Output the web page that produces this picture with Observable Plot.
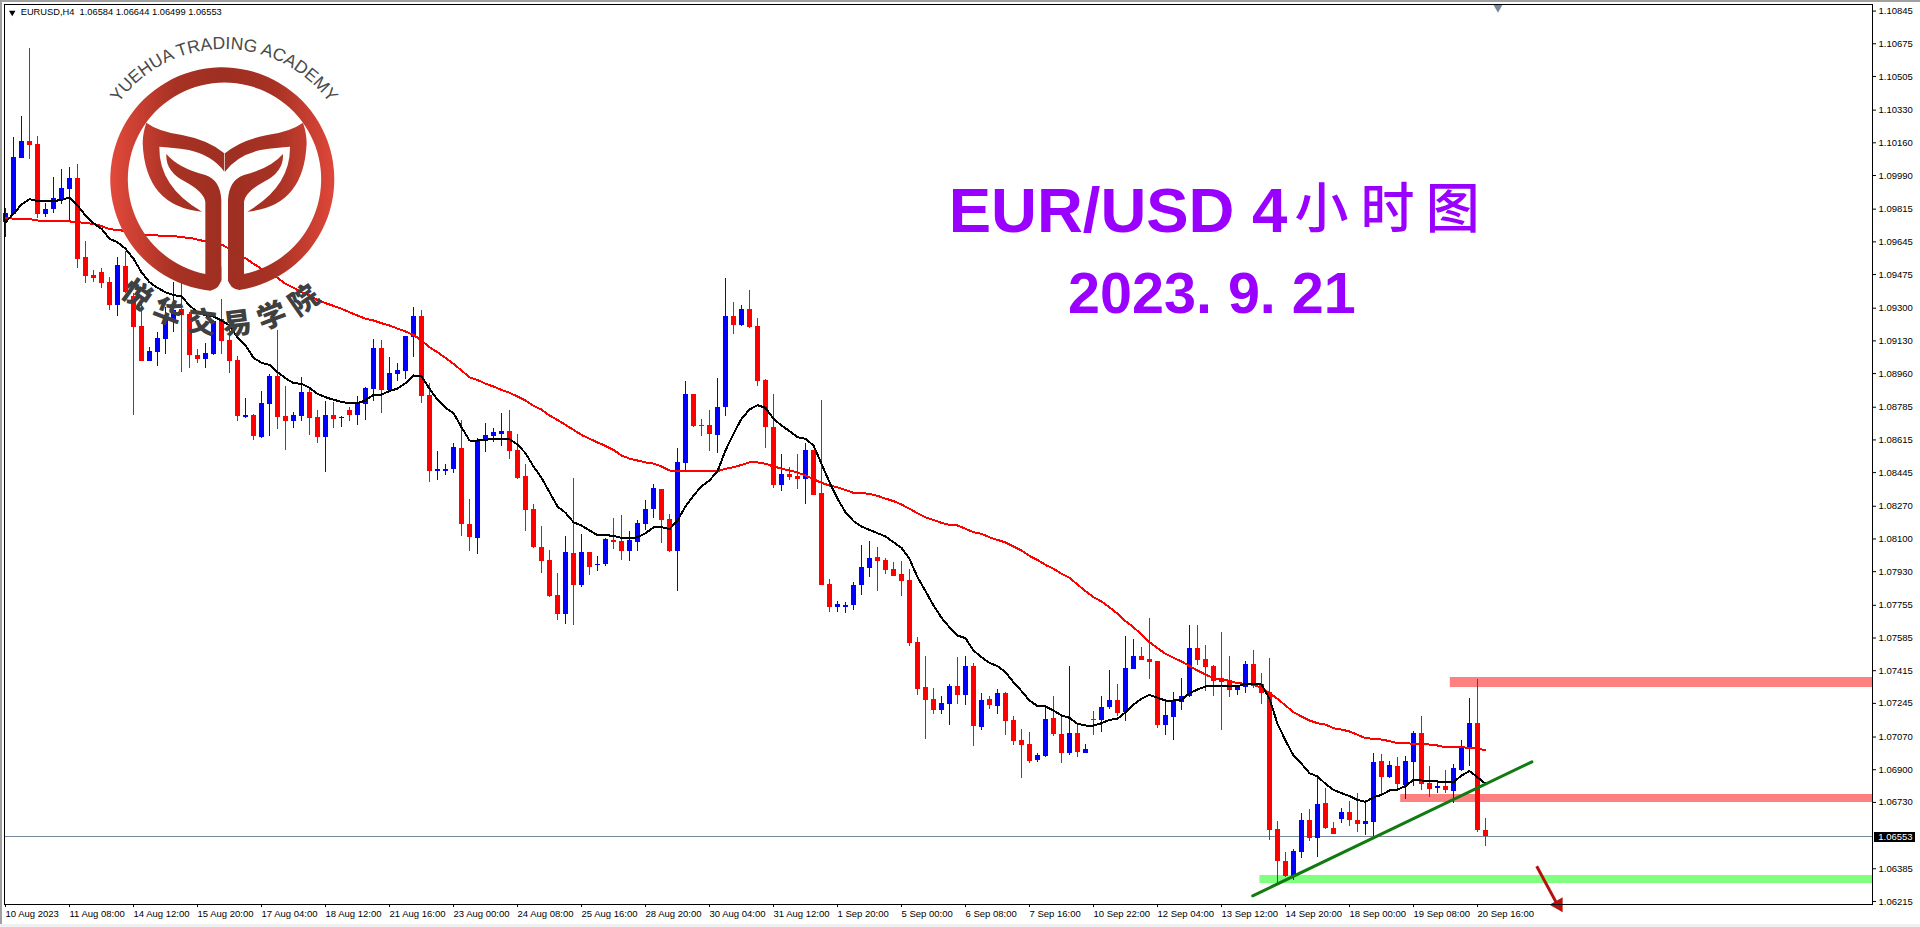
<!DOCTYPE html>
<html>
<head>
<meta charset="utf-8">
<script src="https://cdn.jsdelivr.net/npm/d3@7"></script>
<script src="https://cdn.jsdelivr.net/npm/@observablehq/plot@0.6"></script>
<style>
html,body{margin:0;padding:0;background:#fff;overflow:hidden}
#wrap{position:relative;width:1920px;height:927px}
#wrap svg{display:block}
.chrome{position:absolute}
</style>
</head>
<body>
<div id="wrap"></div>
<script>
const highs=[1.09817,1.10186,1.10297,1.10650,1.10193,1.09843,1.09978,1.10021,1.10032,1.10047,
1.09645,1.09496,1.09505,1.09461,1.09562,1.09597,1.09375,1.09331,1.09097,1.09175,
1.09305,1.09435,1.09519,1.09279,1.09084,1.09115,1.09236,1.09345,1.09227,1.09049,
1.08830,1.08746,1.08867,1.08955,1.09184,1.08893,1.08756,1.08938,1.08881,1.08768,
1.08813,1.08810,1.08737,1.08782,1.08841,1.08889,1.09135,1.09132,1.09042,1.09011,
1.09149,1.09302,1.09288,1.08907,1.08557,1.08487,1.08598,1.08716,1.08305,1.08621,
1.08700,1.08674,1.08752,1.08768,1.08643,1.08487,1.08279,1.08165,1.08040,1.07920,
1.08113,1.08414,1.08123,1.08030,1.08009,1.08102,1.08206,1.08222,1.08139,1.08196,
1.08300,1.08383,1.08359,1.08227,1.08570,1.08919,1.08851,1.08721,1.08768,1.08934,
1.09454,1.09330,1.09314,1.09392,1.09246,1.08929,1.08851,1.08539,1.08472,1.08539,
1.08596,1.08560,1.08820,1.07889,1.07775,1.07770,1.07874,1.08066,1.08087,1.08056,
1.07998,1.07978,1.07983,1.07941,1.07588,1.07489,1.07322,1.07281,1.07343,1.07484,
1.07489,1.07452,1.07296,1.07281,1.07317,1.07302,1.07177,1.07109,1.07094,1.06984,
1.07224,1.07281,1.07177,1.07437,1.07140,1.07031,1.07203,1.07281,1.07416,1.07343,
1.07593,1.07577,1.07536,1.07686,1.07463,1.07260,1.07302,1.07374,1.07650,1.07650,
1.07546,1.07442,1.07614,1.07489,1.07338,1.07463,1.07520,1.07400,1.07478,1.06631,
1.06470,1.06485,1.06672,1.06693,1.06861,1.06802,1.06626,1.06698,1.06735,1.06776,
1.06740,1.06984,1.06979,1.06943,1.06964,1.06969,1.07099,1.07177,1.06917,1.06844,
1.06896,1.06927,1.07052,1.07270,1.07369,1.06644];
const lows=[1.09669,1.09791,1.10080,1.10075,1.09765,1.09773,1.09794,1.09839,1.09756,1.09508,
1.09427,1.09435,1.09401,1.09288,1.09259,1.09375,1.08742,1.09025,1.09025,1.08997,
1.09059,1.09175,1.08967,1.08986,1.09014,1.08986,1.09054,1.09059,1.08959,1.08713,
1.08725,1.08612,1.08624,1.08633,1.08668,1.08560,1.08676,1.08713,1.08638,1.08598,
1.08447,1.08676,1.08681,1.08713,1.08692,1.08716,1.08817,1.08751,1.08869,1.08921,
1.08928,1.09045,1.08803,1.08395,1.08404,1.08430,1.08442,1.08113,1.08035,1.08019,
1.08550,1.08602,1.08581,1.08513,1.08409,1.08139,1.08050,1.07920,1.07796,1.07676,
1.07655,1.07650,1.07848,1.07910,1.07931,1.07957,1.08045,1.07988,1.07983,1.08035,
1.08144,1.08206,1.08076,1.08030,1.07827,1.08456,1.08680,1.08633,1.08555,1.08544,
1.08737,1.09163,1.09205,1.09194,1.08893,1.08570,1.08362,1.08347,1.08404,1.08357,
1.08279,1.08326,1.07858,1.07718,1.07718,1.07712,1.07728,1.07806,1.07900,1.07827,
1.07915,1.07905,1.07801,1.07543,1.07286,1.07057,1.07187,1.07187,1.07130,1.07239,
1.07234,1.07021,1.07104,1.07213,1.07187,1.07078,1.07026,1.06854,1.06932,1.06938,
1.06964,1.07073,1.06932,1.06974,1.06964,1.06984,1.07078,1.07094,1.07213,1.07177,
1.07151,1.07421,1.07468,1.07369,1.07114,1.07078,1.07052,1.07208,1.07276,1.07442,
1.07307,1.07281,1.07104,1.07276,1.07286,1.07296,1.07322,1.07239,1.06532,1.06307,
1.06341,1.06324,1.06438,1.06527,1.06444,1.06589,1.06563,1.06620,1.06605,1.06574,
1.06558,1.06553,1.06771,1.06854,1.06802,1.06745,1.06813,1.06792,1.06756,1.06776,
1.06776,1.06724,1.06891,1.06917,1.06574,1.06499];
const opens=[1.09747,1.09791,1.10080,1.10165,1.10149,1.09791,1.09815,1.09869,1.09921,1.09973,
1.09562,1.09470,1.09484,1.09432,1.09316,1.09517,1.09357,1.09205,1.09025,1.09071,
1.09139,1.09236,1.09292,1.09267,1.09054,1.09033,1.09059,1.09240,1.09132,1.09028,
1.08733,1.08742,1.08629,1.08799,1.08945,1.08737,1.08713,1.08737,1.08862,1.08730,
1.08629,1.08740,1.08726,1.08768,1.08744,1.08803,1.08879,1.09090,1.08872,1.08955,
1.08973,1.09149,1.09257,1.08846,1.08453,1.08451,1.08461,1.08570,1.08175,1.08102,
1.08607,1.08633,1.08647,1.08659,1.08560,1.08425,1.08253,1.08056,1.07988,1.07806,
1.07707,1.08024,1.07858,1.08030,1.07962,1.07967,1.08092,1.08087,1.08035,1.08082,
1.08175,1.08253,1.08357,1.08201,1.08035,1.08492,1.08851,1.08690,1.08690,1.08638,
1.08784,1.09257,1.09210,1.09293,1.09205,1.08924,1.08680,1.08378,1.08435,1.08425,
1.08409,1.08560,1.08336,1.07863,1.07744,1.07744,1.07754,1.07858,1.07946,1.08004,
1.07988,1.07941,1.07915,1.07884,1.07562,1.07328,1.07265,1.07208,1.07239,1.07333,
1.07286,1.07437,1.07120,1.07265,1.07229,1.07296,1.07156,1.07052,1.07031,1.06948,
1.06969,1.07166,1.07083,1.06984,1.07088,1.06984,1.07161,1.07156,1.07224,1.07260,
1.07198,1.07421,1.07489,1.07473,1.07463,1.07130,1.07172,1.07250,1.07281,1.07530,
1.07473,1.07437,1.07374,1.07364,1.07312,1.07328,1.07447,1.07343,1.07302,1.06589,
1.06423,1.06345,1.06470,1.06636,1.06542,1.06724,1.06594,1.06641,1.06678,1.06636,
1.06615,1.06626,1.06943,1.06860,1.06917,1.06818,1.06938,1.07088,1.06828,1.06802,
1.06813,1.06787,1.06896,1.07016,1.07140,1.06584];
const closes=[1.09791,1.10082,1.10165,1.10146,1.09791,1.09811,1.09869,1.09921,1.09973,1.09555,
1.09467,1.09456,1.09430,1.09316,1.09520,1.09383,1.09201,1.09025,1.09075,1.09141,
1.09253,1.09288,1.09264,1.09054,1.09033,1.09063,1.09227,1.09129,1.09023,1.08737,
1.08742,1.08633,1.08804,1.08945,1.08733,1.08713,1.08742,1.08862,1.08728,1.08629,
1.08742,1.08723,1.08732,1.08744,1.08806,1.08882,1.09090,1.08872,1.08959,1.08976,
1.09149,1.09257,1.08843,1.08453,1.08461,1.08461,1.08576,1.08175,1.08108,1.08612,
1.08638,1.08654,1.08659,1.08555,1.08414,1.08248,1.08056,1.07983,1.07801,1.07707,
1.08030,1.07858,1.08030,1.07952,1.07967,1.08097,1.08082,1.08035,1.08092,1.08180,
1.08253,1.08362,1.08196,1.08035,1.08498,1.08851,1.08685,1.08685,1.08643,1.08784,
1.09257,1.09210,1.09293,1.09200,1.08919,1.08680,1.08378,1.08435,1.08420,1.08409,
1.08560,1.08326,1.07858,1.07744,1.07759,1.07754,1.07858,1.07952,1.07998,1.07983,
1.07936,1.07905,1.07879,1.07558,1.07317,1.07260,1.07208,1.07244,1.07333,1.07286,
1.07437,1.07125,1.07260,1.07234,1.07296,1.07151,1.07047,1.07026,1.06943,1.06974,
1.07161,1.07083,1.06984,1.07088,1.06990,1.07005,1.07156,1.07224,1.07260,1.07192,
1.07426,1.07489,1.07468,1.07458,1.07130,1.07182,1.07260,1.07281,1.07530,1.07468,
1.07432,1.07359,1.07354,1.07312,1.07333,1.07447,1.07343,1.07296,1.06584,1.06425,
1.06345,1.06475,1.06636,1.06542,1.06719,1.06594,1.06563,1.06678,1.06636,1.06615,
1.06631,1.06938,1.06860,1.06922,1.06823,1.06943,1.07088,1.06823,1.06797,1.06813,
1.06792,1.06906,1.07016,1.07140,1.06584,1.06553];
const fastMA=[1.09747,1.09791,1.09839,1.09867,1.09857,1.09855,1.09857,1.09863,1.09877,1.09834,
1.09782,1.09742,1.09713,1.09661,1.09643,1.09609,1.09557,1.09487,1.09435,1.09406,
1.09383,1.09368,1.09361,1.09314,1.09279,1.09262,1.09257,1.09236,1.09210,1.09149,
1.09106,1.09042,1.09016,1.09005,1.08967,1.08936,1.08910,1.08907,1.08886,1.08855,
1.08837,1.08824,1.08813,1.08806,1.08806,1.08820,1.08851,1.08851,1.08869,1.08882,
1.08910,1.08950,1.08945,1.08881,1.08824,1.08782,1.08754,1.08681,1.08612,1.08612,
1.08615,1.08621,1.08622,1.08619,1.08591,1.08546,1.08477,1.08418,1.08343,1.08269,
1.08236,1.08187,1.08170,1.08144,1.08120,1.08120,1.08116,1.08106,1.08102,1.08109,
1.08130,1.08160,1.08161,1.08151,1.08196,1.08269,1.08326,1.08373,1.08404,1.08453,
1.08560,1.08647,1.08725,1.08773,1.08796,1.08782,1.08725,1.08690,1.08661,1.08629,
1.08621,1.08586,1.08491,1.08395,1.08309,1.08239,1.08193,1.08165,1.08147,1.08130,
1.08113,1.08083,1.08054,1.07997,1.07901,1.07829,1.07754,1.07690,1.07641,1.07598,
1.07584,1.07520,1.07485,1.07456,1.07439,1.07407,1.07355,1.07309,1.07260,1.07231,
1.07229,1.07208,1.07182,1.07170,1.07139,1.07130,1.07130,1.07142,1.07159,1.07165,
1.07199,1.07239,1.07269,1.07289,1.07274,1.07260,1.07260,1.07263,1.07298,1.07317,
1.07333,1.07336,1.07338,1.07333,1.07333,1.07347,1.07347,1.07343,1.07269,1.07139,
1.07052,1.06974,1.06931,1.06882,1.06865,1.06827,1.06795,1.06778,1.06763,1.06743,
1.06733,1.06757,1.06769,1.06792,1.06797,1.06815,1.06847,1.06844,1.06839,1.06839,
1.06835,1.06835,1.06870,1.06893,1.06861,1.06827];
const slowMA=[1.09768,1.09766,1.09766,1.09763,1.09756,1.09753,1.09753,1.09751,1.09751,1.09749,
1.09742,1.09739,1.09727,1.09711,1.09707,1.09701,1.09690,1.09683,1.09680,1.09678,
1.09678,1.09676,1.09669,1.09666,1.09657,1.09647,1.09640,1.09631,1.09609,1.09583,
1.09560,1.09531,1.09505,1.09479,1.09458,1.09427,1.09406,1.09383,1.09366,1.09343,
1.09326,1.09312,1.09297,1.09279,1.09262,1.09245,1.09236,1.09222,1.09210,1.09194,
1.09179,1.09161,1.09132,1.09097,1.09071,1.09042,1.09011,1.08976,1.08941,1.08927,
1.08907,1.08893,1.08875,1.08860,1.08841,1.08820,1.08792,1.08773,1.08742,1.08719,
1.08693,1.08667,1.08641,1.08621,1.08602,1.08584,1.08563,1.08534,1.08518,1.08508,
1.08498,1.08492,1.08477,1.08456,1.08456,1.08456,1.08456,1.08453,1.08453,1.08453,
1.08465,1.08473,1.08485,1.08498,1.08498,1.08491,1.08477,1.08466,1.08456,1.08446,
1.08430,1.08411,1.08392,1.08378,1.08369,1.08355,1.08340,1.08338,1.08335,1.08324,
1.08310,1.08297,1.08279,1.08257,1.08234,1.08213,1.08199,1.08184,1.08173,1.08170,
1.08153,1.08135,1.08127,1.08109,1.08095,1.08082,1.08061,1.08040,1.08012,1.07991,
1.07965,1.07945,1.07919,1.07898,1.07863,1.07829,1.07797,1.07775,1.07745,1.07711,
1.07673,1.07641,1.07603,1.07563,1.07532,1.07503,1.07482,1.07463,1.07439,1.07416,
1.07395,1.07376,1.07371,1.07362,1.07350,1.07347,1.07341,1.07326,1.07298,1.07269,
1.07234,1.07199,1.07177,1.07156,1.07142,1.07135,1.07116,1.07109,1.07099,1.07082,
1.07064,1.07061,1.07057,1.07049,1.07038,1.07038,1.07035,1.07035,1.07031,1.07026,
1.07017,1.07017,1.07017,1.07014,1.07009,1.07002];
const yTicks=[1.10845,1.10675,1.10505,1.10330,1.10160,1.09990,1.09815,1.09645,1.09475,1.09300,1.09130,1.08960,1.08785,1.08615,1.08445,1.08270,1.08100,1.07930,1.07755,1.07585,1.07415,1.07245,1.07070,1.06900,1.06730,1.06385,1.06215];
const xTickBars=[0,8,16,24,32,40,48,56,64,72,80,88,96,104,112,120,128,136,144,152,160,168,176,184];
const xTickLabels=["10 Aug 2023","11 Aug 08:00","14 Aug 12:00","15 Aug 20:00","17 Aug 04:00","18 Aug 12:00","21 Aug 16:00","23 Aug 00:00","24 Aug 08:00","25 Aug 16:00","28 Aug 20:00","30 Aug 04:00","31 Aug 12:00","1 Sep 20:00","5 Sep 00:00","6 Sep 08:00","7 Sep 16:00","10 Sep 22:00","12 Sep 04:00","13 Sep 12:00","14 Sep 20:00","18 Sep 00:00","19 Sep 08:00","20 Sep 16:00"];
const lastPrice=1.06553;
const headerText="EURUSD,H4  1.06584 1.06644 1.06499 1.06553";
const zones=[
 {from:180.6,top:1.073796,bottom:1.073276,color:"#ff8080"},
 {from:174.4,top:1.067712,bottom:1.067296,color:"#ff8080"},
 {from:156.8,top:1.063500,bottom:1.063084,color:"#80ff80"}];
const trendline=[{x:155.9,y:1.062444},{x:190.8,y:1.069412}];
const arrowShaft=[{x1:191.4,y1:1.06398,x2:193.9,y2:1.06205}];
const arrowHead=[{x:194.1,y:1.061982}];
const shiftMarker=[{x:186.56,y:1.108636}];
const titleLatin=[{x:117.9,y:1.098044,t:"EUR/USD 4"}];
const titleCjk=[{x:164.5,y:1.098044,t:"小"},{x:172.75,y:1.098044,t:"时"},{x:180.9,y:1.098044,t:"图"}];
const titleDate=[{x:150.8,y:1.093712,t:"2023. 9. 21"}];

const bars=opens.map((o,i)=>({i,open:o,high:highs[i],low:lows[i],close:closes[i],
  top:Math.max(o,closes[i]),bottom:Math.min(o,closes[i]),
  color:closes[i]>=o?"#0000ff":"#ff0000"}));
const tickMap=new Map(xTickBars.map((b,i)=>[b,xTickLabels[i]]));
const XMAX=233.375;
const UI="Liberation Sans, Arial, sans-serif";

const chart=Plot.plot({
  width:1920,height:927,marginTop:4,marginBottom:23,marginLeft:4,marginRight:48,
  style:{background:"#fff",fontFamily:UI,color:"#000",overflow:"visible"},
  x:{type:"linear",domain:[-0.125,XMAX],axis:null},
  y:{type:"linear",domain:[1.061992,1.108792],axis:null},
  marks:[
    Plot.rect(zones,{x1:"from",x2:()=>XMAX,y1:"bottom",y2:"top",fill:"color"}),
    Plot.ruleY([lastPrice],{stroke:"#778899",strokeWidth:1,shapeRendering:"crispEdges"}),
    Plot.ruleX(bars,{x:"i",y1:"low",y2:"high",stroke:"color",strokeWidth:1,shapeRendering:"crispEdges"}),
    Plot.rect(bars,{x1:d=>d.i-0.25,x2:d=>d.i+0.375,y1:"bottom",y2:"top",fill:"color",insetTop:-0.3,insetBottom:-0.3,shapeRendering:"crispEdges"}),
    Plot.line(slowMA,{x:(d,i)=>i,y:d=>d,stroke:"#ff0000",strokeWidth:2,curve:"linear",shapeRendering:"crispEdges"}),
    Plot.line(fastMA,{x:(d,i)=>i,y:d=>d,stroke:"#000000",strokeWidth:2,curve:"linear",shapeRendering:"crispEdges"}),
    Plot.line(trendline,{x:"x",y:"y",stroke:"#117a11",strokeWidth:3}),
    Plot.link(arrowShaft,{x1:"x1",y1:"y1",x2:"x2",y2:"y2",stroke:"#b80f0f",strokeWidth:3}),
    Plot.dot(arrowHead,{x:"x",y:"y",symbol:"triangle",r:5.6,rotate:150,fill:"#b80f0f",stroke:"none"}),
    Plot.dot(shiftMarker,{x:"x",y:"y",symbol:"triangle",r:3.4,rotate:180,fill:"#778899",stroke:"none"}),
    Plot.frame({stroke:"#000",strokeWidth:1}),
    Plot.axisY(yTicks,{anchor:"right",tickSize:3,tickPadding:3,tickFormat:d=>d.toFixed(5),fontSize:9.5,label:null,stroke:"#000"}),
    Plot.axisX(xTickBars,{anchor:"bottom",tickSize:3,tickPadding:3,tickFormat:d=>tickMap.get(d),textAnchor:"start",fontSize:9.5,label:null,stroke:"#000"}),
    Plot.rect([{x1:233.625,x2:238.75,y1:1.065232,y2:1.065752}],{x1:"x1",x2:"x2",y1:"y1",y2:"y2",fill:"#000",shapeRendering:"crispEdges"}),
    Plot.text([lastPrice],{x:234.1,y:d=>d,text:d=>d.toFixed(5),textAnchor:"start",fill:"#fff",fontSize:9.5}),
    Plot.dot([{x:0.84,y:1.108376}],{x:"x",y:"y",symbol:"triangle",r:2.4,rotate:180,fill:"#000",stroke:"none"}),
    Plot.text([headerText],{x:1.9,y:1.108376,text:d=>d,textAnchor:"start",fill:"#000",fontSize:9.3}),
    Plot.text(titleLatin,{x:"x",y:"y",text:"t",textAnchor:"start",fill:"#9900ff",fontSize:63.5,fontWeight:"bold",fontFamily:"Liberation Sans"}),
    Plot.text(titleCjk,{x:"x",y:"y",text:"t",fill:"#9900ff",fontSize:54,fontWeight:500,fontFamily:"Noto Sans CJK SC"}),
    Plot.text(titleDate,{x:"x",y:"y",text:"t",fill:"#9900ff",fontSize:57.5,fontWeight:"bold",fontFamily:"Liberation Sans"})
  ]
});

// Watermark logo, layered over the chart as in the reference
d3.select(chart).append("g").attr("class","logo").attr("transform","translate(2,0)").html(`
 <defs><linearGradient id="lg" gradientUnits="userSpaceOnUse" x1="331" x2="1003" y1="0" y2="0">
  <stop offset="0" stop-color="#e0483a"/><stop offset="0.28" stop-color="#a73224"/>
  <stop offset="0.5" stop-color="#9e2f22"/><stop offset="0.72" stop-color="#a73224"/><stop offset="1" stop-color="#e0483a"/>
 </linearGradient></defs>
 <g transform="scale(0.33333)" fill="url(#lg)">
  <path d="M625 872 A336 336 0 1 1 712 870 Q682 866 678 838 L678 800 L725 822 A290 290 0 1 0 610 822 L658 800 L658 838 Q654 866 625 872 Z"/>
  <g id="half">
   <path d="M433 368 Q470 395 540 405 Q620 420 667 460 L667 515 Q630 465 560 450 Q510 442 472 440 Q470 560 600 635 Q430 620 422 430 Q422 400 433 368 Z"/>
   <path d="M493 462 Q530 505 610 525 Q655 540 658 600 L658 845 L610 822 L610 605 Q605 575 550 545 Q490 515 493 462 Z"/>
  </g>
  <use href="#half" transform="translate(1336,0) scale(-1,1)"/>
 </g>
 <path id="arcTop" d="M92 179 A130 130 0 0 1 352 179" fill="none"/>
 <path id="arcBot" d="M67 179 A155 155 0 0 0 377 179" fill="none"/>
 <text font-family="Liberation Sans" font-size="17.5" fill="#4a4a4a"><textPath href="#arcTop" startOffset="50%" text-anchor="middle">YUEHUA TRADING ACADEMY</textPath></text>
 <text font-family="Noto Sans CJK SC" font-weight="900" font-size="29" fill="#404040" letter-spacing="9"><textPath href="#arcBot" startOffset="50%" text-anchor="middle">悦华交易学院</textPath></text>
`);

const wrap=document.getElementById("wrap");
wrap.append(chart);
for(const [l,t,w,h,c] of [[0,0,1920,2,"#a0a0a0"],[0,0,2,927,"#a0a0a0"],[0,924,1920,3,"#f0f0f0"]]){
  const d=document.createElement("div");d.className="chrome";
  d.style.cssText=`left:${l}px;top:${t}px;width:${w}px;height:${h}px;background:${c}`;
  wrap.append(d);
}
</script>
</body>
</html>
